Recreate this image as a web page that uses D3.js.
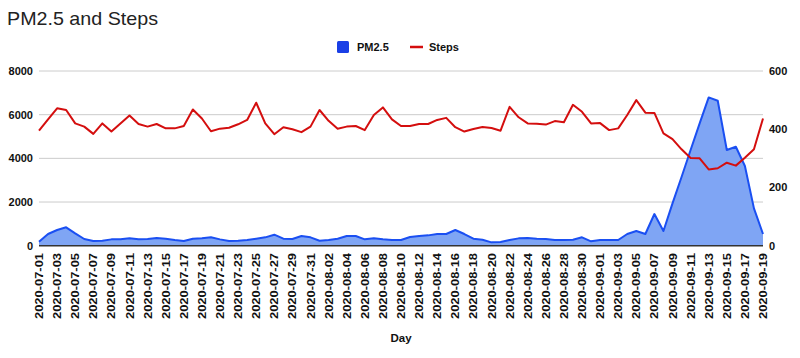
<!DOCTYPE html>
<html><head><meta charset="utf-8">
<script src="https://cdn.jsdelivr.net/npm/d3@7"></script>
<style>body{margin:0;background:#fff;}svg{display:block;font-family:"Liberation Sans",Arial,sans-serif;}</style>
</head><body><svg id="c" width="800" height="358"></svg>
<script>
const startDate = "2020-07-01";
const pm25 = [183,535,718,842,567,307,215,229,290,290,336,290,307,352,321,260,215,321,336,383,290,215,229,260,321,383,504,321,307,443,383,229,260,321,443,443,290,336,290,260,260,397,443,473,535,535,718,535,321,275,153,168,260,336,352,321,307,260,260,275,383,200,260,260,260,535,672,535,1450,672,1940,3144,4380,5600,6790,6636,4380,4530,3650,1710,535];
const steps = [395,434,472,466,420,409,384,420,392,420,447,418,409,418,403,403,411,468,437,393,402,405,417,432,491,420,383,407,400,390,409,466,429,402,409,411,397,449,475,434,411,411,418,418,432,439,407,392,401,408,404,395,477,441,420,419,416,428,424,484,460,420,421,397,403,449,500,457,456,386,366,331,301,300,262,266,285,275,302,331,437];
const leftTicks = [0,2000,4000,6000,8000];
const rightTicks = [0,200,400,600];
const titleText = "PM2.5 and Steps";
const xTitle = "Day";

const parse = d3.timeParse("%Y-%m-%d");
const fmt = d3.timeFormat("%Y-%m-%d");
const d0 = parse(startDate);
const dates = pm25.map((_, i) => d3.timeDay.offset(d0, i));

const svg = d3.select("#c");
const L = 39, R = 763, T = 71, B = 245.7;
const x = d3.scaleTime().domain([dates[0], dates[dates.length-1]]).range([L, R]);
const yL = d3.scaleLinear().domain([0, 8000]).range([B, T]);
const yR = d3.scaleLinear().domain([0, 600]).range([B, T]);

svg.append("text").attr("x", 7).attr("y", 25).attr("font-size", 19)
  .attr("textLength", 151).attr("lengthAdjust", "spacingAndGlyphs")
  .attr("fill", "#222").text(titleText);

// gridlines
svg.append("g").selectAll("line").data(leftTicks.filter(t => t > 0)).join("line")
  .attr("x1", L).attr("x2", R).attr("y1", d => yL(d)).attr("y2", d => yL(d))
  .attr("stroke", "#cccccc").attr("stroke-width", 1);

// left axis labels
svg.append("g").selectAll("text").data(leftTicks).join("text")
  .attr("x", 33).attr("y", d => yL(d) + 4).attr("text-anchor", "end")
  .attr("font-size", 11).attr("font-weight", "bold").attr("fill", "#111").text(d => d);
// right axis labels
svg.append("g").selectAll("text").data(rightTicks).join("text")
  .attr("x", 769).attr("y", d => yR(d) + 4).attr("text-anchor", "start")
  .attr("font-size", 11).attr("font-weight", "bold").attr("fill", "#111").text(d => d);

// area
const area = d3.area().x((d, i) => x(dates[i])).y0(B).y1(d => yL(d));
svg.append("path").datum(pm25).attr("d", area).attr("fill", "#7fa5f4");
const lineL = d3.line().x((d, i) => x(dates[i])).y(d => yL(d));
svg.append("path").datum(pm25).attr("d", lineL).attr("fill", "none").attr("stroke", "#1a4ff2").attr("stroke-width", 2).attr("stroke-linejoin", "round");

const lineR = d3.line().x((d, i) => x(dates[i])).y(d => yR(d));
svg.append("path").datum(steps).attr("d", lineR).attr("fill", "none").attr("stroke", "#d40e0e").attr("stroke-width", 2).attr("stroke-linejoin", "round");

// baseline
svg.append("line").attr("x1", L).attr("x2", R).attr("y1", B).attr("y2", B).attr("stroke", "#333").attr("stroke-width", 1.5);

// x labels
const labelDates = dates.filter((d, i) => i % 2 === 0);
svg.append("g").selectAll("text").data(labelDates).join("text")
  .attr("transform", d => `translate(${x(d) + 4},253) rotate(-90)`)
  .attr("text-anchor", "end").attr("font-size", 11.5).attr("font-weight", "bold").attr("fill", "#111")
  .attr("textLength", 66).attr("lengthAdjust", "spacingAndGlyphs")
  .text(d => fmt(d));

svg.append("text").attr("x", 401).attr("y", 342).attr("text-anchor", "middle")
  .attr("font-size", 11.5).attr("font-weight", "bold").attr("fill", "#111").text(xTitle);

// legend
const lg = svg.append("g");
lg.append("rect").attr("x", 337).attr("y", 41).attr("width", 12).attr("height", 12).attr("rx", 1.5).attr("fill", "#1a3fe6");
lg.append("text").attr("x", 357).attr("y", 51).attr("font-size", 11).attr("font-weight", "bold").attr("fill", "#111").text("PM2.5");
lg.append("line").attr("x1", 410).attr("x2", 423).attr("y1", 47).attr("y2", 47).attr("stroke", "#d40e0e").attr("stroke-width", 2.5);
lg.append("text").attr("x", 429).attr("y", 51).attr("font-size", 11).attr("font-weight", "bold").attr("fill", "#111").text("Steps");
</script></body></html>
